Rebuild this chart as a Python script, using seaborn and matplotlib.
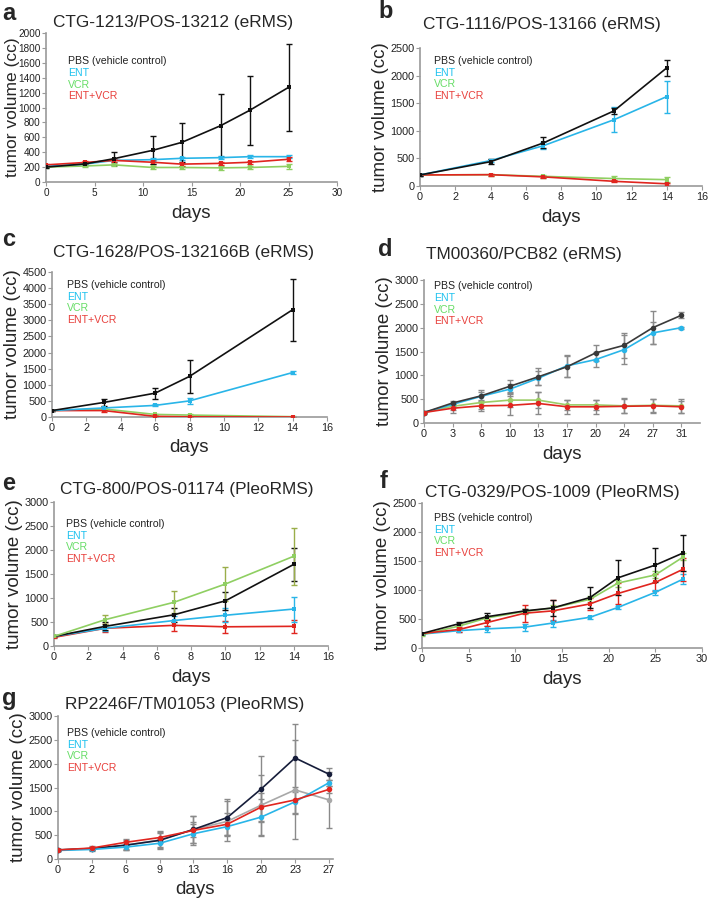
import numpy as np
import matplotlib
matplotlib.use("Agg")
import matplotlib.pyplot as plt
import seaborn as sns

sns.set_style("ticks")
plt.rcParams["font.family"] = ["Liberation Sans", "DejaVu Sans"]

# ---- data ----
# panel a
a_days = [0, 4, 7, 11, 14, 18, 21, 25]
a_pbs = [200, 242, 313, 425, 532, 756, 962, 1270]
a_pbs_err = [10, 15, 85, 190, 260, 425, 465, 580]
a_ent = [210, 240, 290, 300, 318, 327, 340, 340]
a_ent_err = [10, 15, 20, 20, 20, 20, 20, 20]
a_vcr = [200, 215, 230, 195, 195, 190, 195, 210]
a_vcr_err = [10, 15, 20, 20, 20, 25, 25, 30]
a_combo = [230, 262, 290, 265, 240, 250, 265, 305]
a_combo_err = [10, 15, 20, 25, 20, 20, 20, 25]

# panel b
b_days = [0, 4, 7, 11, 14]
b_pbs = [200, 440, 780, 1360, 2140]
b_pbs_err = [10, 50, 100, 60, 150]
b_ent = [200, 460, 730, 1200, 1620]
b_ent_err = [10, 30, 60, 225, 290]
b_vcr = [200, 205, 175, 135, 115]
b_vcr_err = [10, 20, 30, 50, 50]
b_combo = [200, 205, 165, 85, 40]
b_combo_err = [10, 15, 20, 20, 20]

# panel c
c_days = [0, 3, 6, 8, 14]
c_pbs = [200, 450, 740, 1260, 3330]
c_pbs_err = [20, 100, 170, 500, 960]
c_ent = [200, 280, 360, 500, 1380]
c_ent_err = [20, 40, 30, 100, 60]
c_vcr = [200, 250, 80, 60, 10]
c_vcr_err = [20, 30, 20, 20, 10]
c_combo = [200, 200, 20, 5, 0]
c_combo_err = [20, 30, 10, 5, 5]

# panel d (categorical days)
d_days = ["0", "3", "6", "10", "13", "17", "20", "24", "27", "31"]
d_pbs = [220, 420, 570, 770, 970, 1180, 1470, 1630, 2000, 2260]
d_pbs_err = [20, 40, 120, 130, 180, 220, 170, 260, 340, 60]
d_ent = [220, 390, 560, 710, 940, 1200, 1330, 1540, 1890, 2000]
d_ent_err = [20, 40, 80, 100, 150, 230, 160, 300, 230, 20]
d_vcr = [220, 350, 430, 480, 480, 380, 380, 360, 370, 360]
d_vcr_err = [30, 80, 130, 150, 170, 100, 100, 160, 140, 140]
d_combo = [220, 310, 360, 370, 410, 340, 340, 350, 360, 340]
d_combo_err = [30, 90, 100, 200, 230, 150, 150, 150, 140, 130]

# panel e
e_days = [0, 3, 7, 10, 14]
e_pbs = [200, 410, 650, 940, 1700]
e_pbs_err = [20, 80, 150, 190, 340]
e_ent = [200, 370, 530, 640, 770]
e_ent_err = [20, 60, 100, 150, 260]
e_vcr = [200, 550, 910, 1290, 1870]
e_vcr_err = [20, 100, 230, 360, 590]
e_combo = [180, 370, 430, 400, 410]
e_combo_err = [20, 80, 110, 130, 130]

# panel f
f_days = [0, 4, 7, 11, 14, 18, 21, 25, 28]
f_pbs = [250, 420, 540, 640, 690, 870, 1210, 1430, 1640]
f_pbs_err = [15, 30, 60, 40, 130, 180, 300, 290, 310]
f_ent = [240, 300, 330, 360, 430, 530, 700, 960, 1190]
f_ent_err = [15, 30, 50, 60, 60, 30, 30, 40, 80]
f_vcr = [230, 380, 520, 630, 690, 840, 1120, 1260, 1570]
f_vcr_err = [15, 30, 40, 50, 50, 50, 60, 60, 60]
f_combo = [250, 320, 440, 600, 640, 760, 940, 1130, 1360]
f_combo_err = [15, 40, 60, 150, 180, 100, 180, 150, 200]

# panel g (categorical days)
g_days = ["0", "2", "6", "9", "13", "16", "20", "23", "27"]
g_pbs = [190, 220, 290, 390, 620, 870, 1470, 2120, 1780]
g_pbs_err = [20, 40, 80, 150, 150, 380, 690, 720, 120]
g_ent = [180, 200, 250, 330, 530, 680, 880, 1200, 1600]
g_ent_err = [20, 30, 60, 80, 200, 180, 380, 250, 60]
g_vcr = [190, 220, 290, 400, 620, 790, 1130, 1450, 1240]
g_vcr_err = [20, 40, 100, 180, 290, 420, 640, 1040, 580]
g_combo = [190, 230, 350, 450, 600, 730, 1090, 1240, 1460]
g_combo_err = [20, 40, 80, 120, 300, 230, 300, 280, 80]

groups = ["PBS (vehicle control)", "ENT", "VCR", "ENT+VCR"]
label_colors = ["#222222", "#1fc2ef", "#66dd66", "#e8403c"]

BLACK = "#111111"
BLUE = "#29b5e8"
GREEN = "#8fcf62"
RED = "#e0251f"

W, H = 709, 898
fig = plt.figure(figsize=(W / 100, H / 100), dpi=100)


def add_ax(x0, x1, y0, y1):
    return fig.add_axes([x0 / W, 1 - y1 / H, (x1 - x0) / W, (y1 - y0) / H])


def style_ax(ax, ylim, yticks, xlim=None, xticks=None, xlabels=None,
             ticksize=7.8, ylabelsize=13.5):
    ax.set_ylim(*ylim)
    ax.set_yticks(yticks)
    if xlim is not None:
        ax.set_xlim(*xlim)
    if xticks is not None:
        ax.set_xticks(xticks)
    if xlabels is not None:
        ax.set_xticklabels(xlabels)
    sns.despine(ax=ax)
    for s in ["left", "bottom"]:
        ax.spines[s].set_color("#9a9a9a")
        ax.spines[s].set_linewidth(1.2)
    ax.tick_params(labelsize=ticksize, length=3, width=0.8, color="#9a9a9a",
                   labelcolor="#222222", pad=1)
    ax.set_xlabel("days", fontsize=13.5, labelpad=5)
    ax.set_ylabel("tumor volume (cc)", fontsize=ylabelsize, labelpad=1)
    ax.grid(False)


def draw_series(ax, x, vals, err, color, ecolor, marker="s", ms=3):
    ax.errorbar(x, vals, yerr=err, fmt="none", ecolor=ecolor,
                elinewidth=1.0, capsize=2, capthick=1.0, zorder=2)
    sns.lineplot(x=x, y=vals, ax=ax, color=color, marker=marker,
                 markersize=ms, markeredgewidth=0, linewidth=1.2,
                 zorder=3, legend=False)


def legend_text(ax, xf, yf):
    for i, (g, c) in enumerate(zip(groups, label_colors)):
        ax.annotate(g, xy=(xf, yf), xycoords="axes fraction",
                    xytext=(0, -8.4 * i), textcoords="offset points",
                    fontsize=7.6, color=c, va="center", ha="left")


def titles(letter, lx, ly, title, tx, ty):
    fig.text(lx / W, 1 - ly / H, letter, fontsize=17, fontweight="bold",
             va="center", ha="left")
    fig.text(tx / W, 1 - ty / H, title, fontsize=12.4, va="center", ha="left")


# ---- panel a ----
ax = add_ax(46, 337, 33, 182)
draw_series(ax, a_days, a_vcr, a_vcr_err, GREEN, GREEN)
draw_series(ax, a_days, a_ent, a_ent_err, BLUE, BLUE)
draw_series(ax, a_days, a_combo, a_combo_err, RED, RED)
draw_series(ax, a_days, a_pbs, a_pbs_err, BLACK, BLACK)
style_ax(ax, (0, 2000), range(0, 2001, 200), (0, 30), range(0, 31, 5),
         ticksize=7.2, ylabelsize=12.5)
ax.yaxis.set_label_coords(-0.091, 0.5)
legend_text(ax, 0.076, 0.81)
titles("a", 2, 14, "CTG-1213/POS-13212 (eRMS)", 53, 22)

# ---- panel b ----
ax = add_ax(420, 702, 48, 186)
draw_series(ax, b_days, b_vcr, b_vcr_err, GREEN, GREEN)
draw_series(ax, b_days, b_combo, b_combo_err, RED, RED)
draw_series(ax, b_days, b_ent, b_ent_err, BLUE, BLUE)
draw_series(ax, b_days, b_pbs, b_pbs_err, BLACK, BLACK)
style_ax(ax, (0, 2500), range(0, 2501, 500), (0, 16), range(0, 17, 2))
legend_text(ax, 0.05, 0.906)
titles("b", 378, 12, "CTG-1116/POS-13166 (eRMS)", 423, 25)

# ---- panel c ----
ax = add_ax(52, 327, 272, 417)
draw_series(ax, c_days, c_vcr, c_vcr_err, GREEN, GREEN)
draw_series(ax, c_days, c_combo, c_combo_err, RED, RED)
draw_series(ax, c_days, c_ent, c_ent_err, BLUE, BLUE)
draw_series(ax, c_days, c_pbs, c_pbs_err, BLACK, BLACK)
style_ax(ax, (0, 4500), range(0, 4501, 500), (0, 16), range(0, 17, 2))
legend_text(ax, 0.055, 0.91)
titles("c", 2, 240, "CTG-1628/POS-132166B (eRMS)", 53, 253)

# ---- panel d ----
ax = add_ax(424, 700, 280, 423)
dx = np.arange(len(d_days))
GRAY_ERR = "#8a8a8a"
draw_series(ax, dx, d_vcr, d_vcr_err, "#9ccc66", GRAY_ERR, "o", 4)
draw_series(ax, dx, d_ent, d_ent_err, BLUE, GRAY_ERR, "o", 4)
draw_series(ax, dx, d_pbs, d_pbs_err, "#3a3a3a", GRAY_ERR, "o", 4)
draw_series(ax, dx, d_combo, d_combo_err, RED, GRAY_ERR, "o", 4)
style_ax(ax, (0, 3000), range(0, 3001, 500), (0, 9.65), dx, d_days)
legend_text(ax, 0.036, 0.955)
titles("d", 378, 250, "TM00360/PCB82 (eRMS)", 426, 254)

# ---- panel e ----
ax = add_ax(54, 328, 502, 646)
draw_series(ax, e_days, e_combo, e_combo_err, RED, RED)
draw_series(ax, e_days, e_ent, e_ent_err, BLUE, BLUE)
draw_series(ax, e_days, e_pbs, e_pbs_err, BLACK, BLACK)
draw_series(ax, e_days, e_vcr, e_vcr_err, GREEN, "#9aae4a")
style_ax(ax, (0, 3000), range(0, 3001, 500), (0, 16), range(0, 17, 2))
legend_text(ax, 0.044, 0.847)
titles("e", 2, 483, "CTG-800/POS-01174 (PleoRMS)", 60, 490)

# ---- panel f ----
ax = add_ax(422, 702, 503, 648)
draw_series(ax, f_days, f_ent, f_ent_err, BLUE, BLUE)
draw_series(ax, f_days, f_vcr, f_vcr_err, GREEN, GREEN)
draw_series(ax, f_days, f_combo, f_combo_err, RED, RED)
draw_series(ax, f_days, f_pbs, f_pbs_err, BLACK, BLACK)
style_ax(ax, (0, 2500), range(0, 2501, 500), (0, 30), range(0, 31, 5))
legend_text(ax, 0.043, 0.897)
titles("f", 380, 482, "CTG-0329/POS-1009 (PleoRMS)", 425, 493)

# ---- panel g ----
ax = add_ax(58, 333, 716, 859)
gx = np.arange(len(g_days))
draw_series(ax, gx, g_vcr, g_vcr_err, "#a8a8a8", GRAY_ERR, "o", 4)
draw_series(ax, gx, g_pbs, g_pbs_err, "#161d3a", GRAY_ERR, "o", 4)
draw_series(ax, gx, g_ent, g_ent_err, BLUE, GRAY_ERR, "o", 4)
draw_series(ax, gx, g_combo, g_combo_err, RED, GRAY_ERR, "o", 4)
style_ax(ax, (0, 3000), range(0, 3001, 500), (0, 8.12), gx, g_days)
legend_text(ax, 0.033, 0.88)
titles("g", 2, 698, "RP2246F/TM01053 (PleoRMS)", 65, 705)

fig.savefig("out.png", dpi=100)
